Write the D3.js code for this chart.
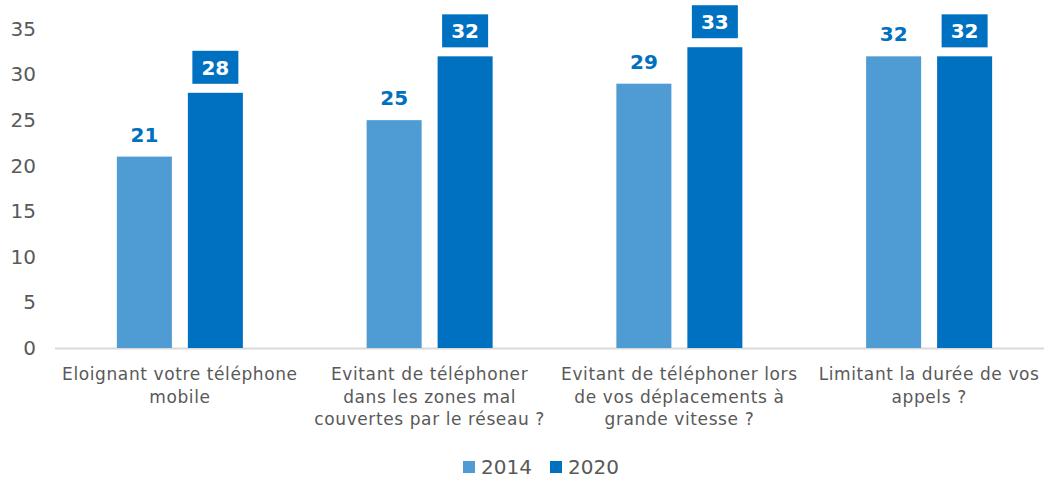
<!DOCTYPE html>
<html><head><meta charset="utf-8">
<script src="https://cdn.jsdelivr.net/npm/d3@7"></script>
<style>body{margin:0;background:#fff;} svg{display:block;font-family:"DejaVu Sans",Verdana,sans-serif;}</style>
</head><body><svg id="c" width="1044" height="480"></svg>
<script>
const categories = [
  ["Eloignant votre téléphone", "mobile"],
  ["Evitant de téléphoner", "dans les zones mal", "couvertes par le réseau ?"],
  ["Evitant de téléphoner lors", "de vos déplacements à", "grande vitesse ?"],
  ["Limitant la durée de vos", "appels ?"]
];
const series = ["2014", "2020"];
const values2014 = [21, 25, 29, 32];
const values2020 = [28, 32, 33, 32];
const yTicks = [0, 5, 10, 15, 20, 25, 30, 35];
const colors = {"2014": "#4f9bd4", "2020": "#0070c0"};

const svg = d3.select("#c");
const x0 = d3.scaleBand().domain(d3.range(categories.length)).range([55, 1054]).padding(0);
const y = d3.scaleLinear().domain([0, 35]).range([348, 29]);
const x1 = d3.scaleBand().domain(series).range([-63, 63]).paddingInner(0.225).paddingOuter(0);

// y axis labels
const yAxis = d3.axisLeft(y).tickValues(yTicks).tickSize(0).tickPadding(0);
const ya = svg.append("g").attr("transform", "translate(36,0)").call(yAxis);
ya.select(".domain").remove();
ya.selectAll("text").attr("font-size", 20).attr("fill", "#595959").attr("font-family", "DejaVu Sans, Verdana, sans-serif");

// baseline
svg.append("line").attr("x1", 55).attr("x2", 1044).attr("y1", y(0) + 0.5).attr("y2", y(0) + 0.5)
  .attr("stroke", "#d9d9d9").attr("stroke-width", 2);

const data = categories.map((c, i) => ({i, vals: [{s: "2014", v: values2014[i]}, {s: "2020", v: values2020[i]}]}));
const g = svg.selectAll("g.cat").data(data).enter().append("g").attr("class", "cat")
  .attr("transform", d => `translate(${x0(d.i) + x0.bandwidth() / 2},0)`);

g.selectAll("rect.bar").data(d => d.vals).enter().append("rect").attr("class", "bar")
  .attr("x", d => x1(d.s)).attr("width", x1.bandwidth())
  .attr("y", d => y(d.v)).attr("height", d => y(0) - y(d.v))
  .attr("fill", d => colors[d.s]);

// labels
g.selectAll("g.lab").data(d => d.vals).enter().append("g").attr("class", "lab").each(function(d) {
  const cx = x1(d.s) + x1.bandwidth() / 2;
  const sel = d3.select(this);
  if (d.s === "2020") {
    sel.append("rect").attr("x", cx - 23).attr("y", y(d.v) - 42).attr("width", 46).attr("height", 33).attr("fill", colors["2020"]);
    sel.append("text").attr("x", cx).attr("y", y(d.v) - 18).attr("text-anchor", "middle")
      .attr("font-size", 20).attr("font-weight", "bold").attr("fill", "#fff").text(d.v);
  } else {
    sel.append("text").attr("x", cx).attr("y", y(d.v) - 15).attr("text-anchor", "middle")
      .attr("font-size", 20).attr("font-weight", "bold").attr("fill", "#0070c0").text(d.v);
  }
});

// category labels
g.each(function(d) {
  const t = d3.select(this).append("text").attr("text-anchor", "middle").attr("font-size", 17)
    .attr("letter-spacing", 0.6).attr("fill", "#595959");
  categories[d.i].forEach((line, k) => {
    t.append("tspan").attr("x", 0).attr("y", 380 + k * 22.5).text(line);
  });
});

// legend
const leg = svg.append("g");
const legX = [463, 550];
series.forEach((s, i) => {
  leg.append("rect").attr("x", legX[i]).attr("y", 461).attr("width", 12).attr("height", 12).attr("fill", colors[s]);
  leg.append("text").attr("x", legX[i] + 18).attr("y", 474).attr("font-size", 20).attr("fill", "#595959").text(s);
});
</script></body></html>
